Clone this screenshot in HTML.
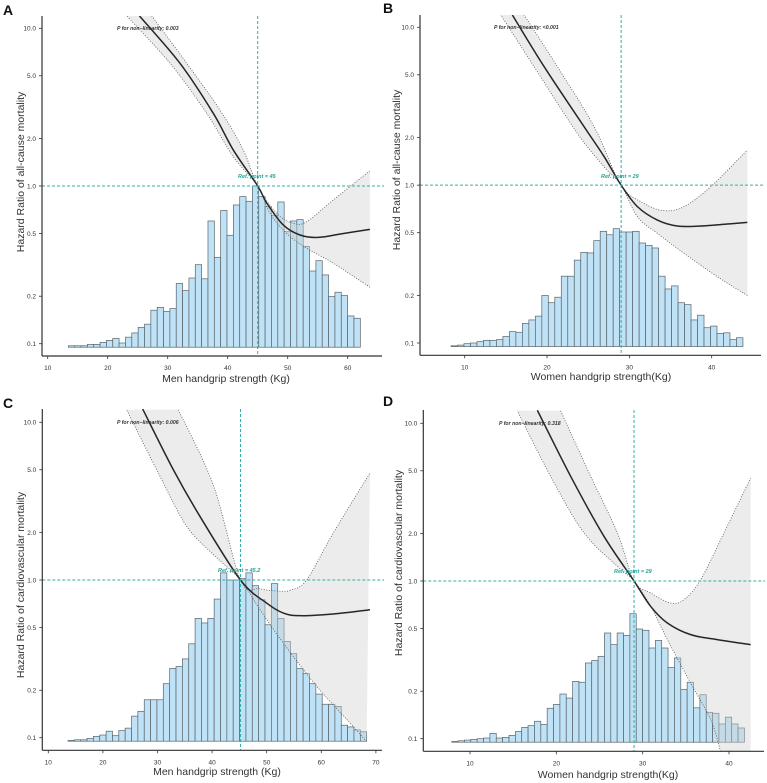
<!DOCTYPE html>
<html><head><meta charset="utf-8"><style>
html,body{margin:0;padding:0;background:#fff;}
svg{display:block;font-family:"Liberation Sans",Arial,sans-serif;}
</style></head><body>
<svg id="fig" width="767" height="783" viewBox="0 0 767 783" xmlns="http://www.w3.org/2000/svg"></svg>
<script>
// ---------- Panel A data ----------
const aBinStart = 11.32, aBinWidth = 1.058;
const aBins = [0.095,0.095,0.097,0.097,0.097,0.099,0.099,0.102,0.105,0.108,0.101,0.110,0.117,0.127,0.133,0.163,0.170,0.160,0.167,0.241,0.217,0.261,0.317,0.258,0.60,0.353,0.70,0.487,0.758,0.856,0.80,1.0,0.856,0.739,0.652,0.792,0.513,0.60,0.612,0.414,0.289,0.336,0.273,0.199,0.212,0.202,0.150,0.145];
const aCurveX = [25.3,32.05,37.6,40.94,45,46.5,49.28,52.05,55.1,59.3,63.7];
const aCurveHR = [11.97,6.0,2.89,1.69,1.0,0.78,0.565,0.489,0.472,0.50,0.531];
const aUpperX = [27.33,33.17,38.72,42.6,45,48.17,50.94,53.17,57.6,63.7];
const aUpperHR = [12,6.0,3.03,1.69,1.0,0.671,0.58,0.594,0.815,1.25];
const aLowerX = [23.17,30.39,36.5,40.94,45,47.05,49.83,53.17,57.6,63.7];
const aLowerHR = [12,6.0,2.89,1.53,1.0,0.671,0.50,0.403,0.324,0.228];
const aXTicks = [10,20,30,40,50,60];
// ---------- Panel B data ----------
const bBinStart = 6.76, bBinWidth = 0.788;
const bBins = [0.095,0.095,0.096,0.097,0.099,0.100,0.102,0.104,0.104,0.105,0.110,0.118,0.117,0.133,0.140,0.148,0.200,0.180,0.195,0.265,0.265,0.335,0.375,0.372,0.445,0.51,0.485,0.53,0.505,0.505,0.51,0.43,0.415,0.40,0.265,0.22,0.23,0.18,0.175,0.14,0.15,0.125,0.128,0.115,0.116,0.105,0.108];
const bCurveX = [15.79,19.64,24.49,26.92,29,30.98,33.4,35.83,38.66,41.9,44.33];
const bCurveHR = [11.97,5.64,2.35,1.52,1.0,0.731,0.601,0.551,0.551,0.567,0.581];
const bUpperX = [17.2,21.25,25.71,29,31.78,34.21,36.64,39.88,44.33];
const bUpperHR = [12,5.64,2.35,1.0,0.767,0.689,0.731,0.978,1.67];
const bLowerX = [14.37,18.42,23.68,26.92,29,30.98,33.4,36.64,40.69,44.33];
const bLowerHR = [12,5.64,2.13,1.31,1.0,0.631,0.495,0.37,0.263,0.200];
const bXTicks = [10,20,30,40];
// ---------- Panel C data ----------
const cBinStart = 12.44, cBinWidth = 1.164;
const cBins = [0.095,0.096,0.097,0.097,0.099,0.102,0.104,0.110,0.103,0.111,0.115,0.137,0.147,0.174,0.174,0.174,0.220,0.275,0.283,0.316,0.394,0.571,0.534,0.571,0.757,1.11,1.0,1.0,1.02,1.11,0.92,0.75,0.52,0.948,0.57,0.408,0.341,0.274,0.255,0.220,0.189,0.163,0.163,0.158,0.120,0.117,0.112,0.109];
const cCurveX = [27.28,32.89,37.78,45.2,49.99,53.04,56.09,62.2,68.91];
const cCurveHR = [12.15,5.01,2.53,1.0,0.714,0.617,0.594,0.609,0.648];
const cUpperX = [33.81,40.22,45.2,48.77,52.43,54.26,57.31,62.2,68.91];
const cUpperHR = [12,4.0,1.0,0.88,0.85,0.86,1.0,1.99,4.77];
const cLowerX = [24.35,30.45,35.34,40.22,45.2,48.77,53.04,59.15,65.25,68.3];
const cLowerHR = [12,4.55,2.19,1.45,1.0,0.648,0.398,0.212,0.124,0.0948];
const cXTicks = [10,20,30,40,50,60,70];
// ---------- Panel D data ----------
const dBinStart = 6.41, dBinWidth = 0.737;
const dBins = [0.095,0.095,0.096,0.097,0.098,0.099,0.100,0.101,0.108,0.101,0.102,0.105,0.111,0.118,0.121,0.129,0.123,0.156,0.165,0.192,0.181,0.231,0.228,0.302,0.313,0.333,0.468,0.395,0.468,0.452,0.62,0.496,0.487,0.376,0.42,0.376,0.283,0.325,0.205,0.228,0.157,0.190,0.147,0.145,0.124,0.137,0.124,0.117];
const dCurveX = [17.8,21.66,25.52,29,30.93,32.86,35.56,38.65,42.51];
const dCurveHR = [12.1,4.61,1.92,1.0,0.69,0.542,0.457,0.425,0.395];
const dUpperX = [20.5,23.98,27.07,29,30.93,33.24,34.79,36.72,39.42,42.51];
const dUpperHR = [12,4.61,2.02,1.0,0.84,0.725,0.762,1.02,2.02,4.5];
const dLowerX = [15.48,19.34,23.2,27.07,29,30.93,32.86,35.56,37.88,39.03];
const dLowerHR = [12,4.61,2.02,1.24,1.0,0.69,0.425,0.225,0.132,0.083];
const dXTicks = [10,20,30,40];
const yTickValues = [10,5,2,1,0.5,0.2,0.1];
const yTickLabels = ["10.0","5.0","2.0","1.0","0.5","0.2","0.1"];

const NS = "http://www.w3.org/2000/svg";
const fig = document.getElementById('fig');
function mk(tag, attrs, parent, text){
  const e = document.createElementNS(NS, tag);
  for (const k in attrs) e.setAttribute(k, attrs[k]);
  if (text !== undefined) e.textContent = text;
  (parent||fig).appendChild(e);
  return e;
}
function smoothPath(pts){
  let d = "M"+pts[0][0].toFixed(2)+","+pts[0][1].toFixed(2);
  for (let i=0;i<pts.length-1;i++){
    const p0=pts[Math.max(0,i-1)], p1=pts[i], p2=pts[i+1], p3=pts[Math.min(pts.length-1,i+2)];
    const c1=[p1[0]+(p2[0]-p0[0])/6, p1[1]+(p2[1]-p0[1])/6];
    const c2=[p2[0]-(p3[0]-p1[0])/6, p2[1]-(p3[1]-p1[1])/6];
    d+=" C"+c1[0].toFixed(2)+","+c1[1].toFixed(2)+" "+c2[0].toFixed(2)+","+c2[1].toFixed(2)+" "+p2[0].toFixed(2)+","+p2[1].toFixed(2);
  }
  return d;
}
function smoothBody(pts){ return smoothPath(pts).replace(/^M[^ ]+/, ""); }

function drawPanel(P){
  const g = mk('g', {});
  
  
  const sx = v => P.x10 + (v-10)*P.pxu;
  const sy = v => P.y10 + (1-Math.log10(v))*(P.y01-P.y10)/2;
  const clipId = 'clip'+P.letter;
  const cp = mk('clipPath', {id:clipId}, g);
  mk('rect', {x:P.ax, y:P.top, width:P.right-P.ax, height:P.xay-P.top}, cp);
  const plot = mk('g', {'clip-path':'url(#'+clipId+')'}, g);
  const hg = mk('g', {}, plot);
  
  
  const base = sy(0.095);
  P.bins.forEach((v,i)=>{
    const x0 = sx(P.binStart + i*P.binWidth), x1 = sx(P.binStart + (i+1)*P.binWidth);
    const r = mk('rect', {x:x0, y:sy(v), width:x1-x0, height:Math.max(0,base-sy(v)), fill:'#bfe2f6', stroke:'#5a6468', 'stroke-width':0.7}, hg);
    
    
  });
  const up = P.ux.map((x,i)=>[sx(x), sy(P.uy[i])]);
  const lo = P.lx.map((x,i)=>[sx(x), sy(P.ly[i])]).reverse();
  let bandD = smoothPath(up);
  if (P.bandCorner) bandD += " L"+sx(P.ux[P.ux.length-1])+","+(P.xay+5)+" L"+lo[0][0]+","+(P.xay+5);
  bandD += " L"+lo[0][0]+","+lo[0][1]+smoothBody(lo)+" Z";
  const band = mk('path', {d: bandD, fill:'rgba(205,205,205,0.38)', stroke:'none'}, plot);
  
  
  const ul = mk('path', {d: smoothPath(up), fill:'none', stroke:'#555', 'stroke-width':0.8, 'stroke-dasharray':'1,1.6'}, plot);
  
  
  const ll = mk('path', {d: smoothPath(lo), fill:'none', stroke:'#555', 'stroke-width':0.8, 'stroke-dasharray':'1,1.6'}, plot);
  
  
  const rv = mk('line', {x1:sx(P.ref), x2:sx(P.ref), y1:P.top, y2:P.xay, stroke:'#2fb0a6', 'stroke-width':1, 'stroke-dasharray':'3,2'}, g);
  
  
  const rh = mk('line', {x1:P.ax, x2:P.hEnd, y1:sy(1), y2:sy(1), stroke:'#2fb0a6', 'stroke-width':1, 'stroke-dasharray':'3,2'}, g);
  
  
  const cv = mk('path', {d: smoothPath(P.cx.map((x,i)=>[sx(x), sy(P.cy[i])])), fill:'none', stroke:'#262626', 'stroke-width':1.5}, plot);
  
  
  const pt = mk('text', {x:P.pX, y:P.pY, 'font-size':5.2, 'font-style':'italic', 'font-weight':'bold', fill:'#333'}, g, P.pText);
  
  
  const rt = mk('text', {x:P.rX, y:P.rY, 'font-size':5.5, 'font-style':'italic', 'font-weight':'bold', fill:'#1fa59a'}, g, P.rText);
  
  
  const ya = mk('line', {x1:P.ax, x2:P.ax, y1:P.top, y2:P.xay, stroke:'#333', 'stroke-width':1.2}, g);
  
  
  const xa = mk('line', {x1:P.ax, x2:P.right, y1:P.xay, y2:P.xay, stroke:'#333', 'stroke-width':1.2}, g);
  
  
  yTickValues.forEach((v,i)=>{
    const y = sy(v);
    const tk = mk('line', {x1:P.ax-3, x2:P.ax, y1:y, y2:y, stroke:'#333', 'stroke-width':0.8}, g);
    
    
    const tl = mk('text', {x:P.ax-6, y:y+2.3, 'font-size':6.5, 'text-anchor':'end', fill:'#333'}, g, yTickLabels[i]);
    
    
  });
  P.xticks.forEach(v=>{
    const x = sx(v);
    const tk = mk('line', {x1:x, x2:x, y1:P.xay, y2:P.xay+3, stroke:'#333', 'stroke-width':0.8}, g);
    
    
    const tl = mk('text', {x:x, y:P.xay+14, 'font-size':6.5, 'text-anchor':'middle', fill:'#333'}, g, String(v));
    
    
  });
  const xt = mk('text', {x:P.xlX, y:P.xlY, 'font-size':10.5, 'text-anchor':'middle', fill:'#333'}, g, P.xTitle);
  
  
  const yt = mk('text', {x:0, y:0, 'font-size':10.5, 'text-anchor':'middle', fill:'#333', transform:'translate('+P.ylX+','+P.ylY+') rotate(-90)'}, g, P.yTitle);
  
  
  const lt = mk('text', {x:P.lX, y:P.lY, 'font-size':14, 'font-weight':'bold', fill:'#111'}, g, P.letter);
  
  
}

drawPanel({letter:'A', ax:42, top:16, xay:356, right:382, hEnd:384, x10:47.7, pxu:6, y10:28.3, y01:343.7,
  bins:aBins, binStart:aBinStart, binWidth:aBinWidth, cx:aCurveX, cy:aCurveHR, ux:aUpperX, uy:aUpperHR, lx:aLowerX, ly:aLowerHR,
  ref:45, xticks:aXTicks, pText:'P for non−linearity: 0.003', pX:117, pY:30, rText:'Ref. point = 45', rX:238, rY:178,
  xTitle:'Men  handgrip strength (Kg)', xlX:226, xlY:382, yTitle:'Hazard Ratio of all-cause mortality', ylX:24, ylY:172, lX:3, lY:15});
drawPanel({letter:'B', ax:420, top:15, xay:355.3, right:761, hEnd:765, x10:464.7, pxu:8.233, y10:27.3, y01:343,
  bins:bBins, binStart:bBinStart, binWidth:bBinWidth, cx:bCurveX, cy:bCurveHR, ux:bUpperX, uy:bUpperHR, lx:bLowerX, ly:bLowerHR,
  ref:29, xticks:bXTicks, pText:'P for non−linearity: <0.001', pX:494, pY:29, rText:'Ref. point = 29', rX:601, rY:178,
  xTitle:'Women handgrip  strength(Kg)', xlX:601, xlY:380, yTitle:'Hazard Ratio of all-cause mortality', ylX:400, ylY:170, lX:383, lY:13});
drawPanel({letter:'C', ax:42.3, top:409, xay:750.3, right:382, hEnd:384, x10:48.3, pxu:5.46, y10:422.3, y01:737.7,
  bins:cBins, binStart:cBinStart, binWidth:cBinWidth, cx:cCurveX, cy:cCurveHR, ux:cUpperX, uy:cUpperHR, lx:cLowerX, ly:cLowerHR,
  ref:45.2, xticks:cXTicks, pText:'P for non−linearity: 0.006', pX:117, pY:424, rText:'Ref. point = 45.2', rX:218, rY:572,
  xTitle:'Men handgrip strength (Kg)', xlX:217, xlY:775, yTitle:'Hazard Ratio of cardiovascular mortality', ylX:24, ylY:585, lX:3, lY:408});
drawPanel({letter:'D', ax:423.3, top:410, xay:751.3, right:764, hEnd:765, x10:470, pxu:8.633, y10:423.3, y01:738.7,
  bins:dBins, binStart:dBinStart, binWidth:dBinWidth, cx:dCurveX, cy:dCurveHR, ux:dUpperX, uy:dUpperHR, lx:dLowerX, ly:dLowerHR, bandCorner:true,
  ref:29, xticks:dXTicks, pText:'P for non−linearity: 0.318', pX:499, pY:425, rText:'Ref. point = 29', rX:614, rY:573,
  xTitle:'Women handgrip  strength(Kg)', xlX:608, xlY:778, yTitle:'Hazard Ratio of cardiovascular mortality', ylX:402, ylY:563, lX:383, lY:406});
</script>
</body></html>
